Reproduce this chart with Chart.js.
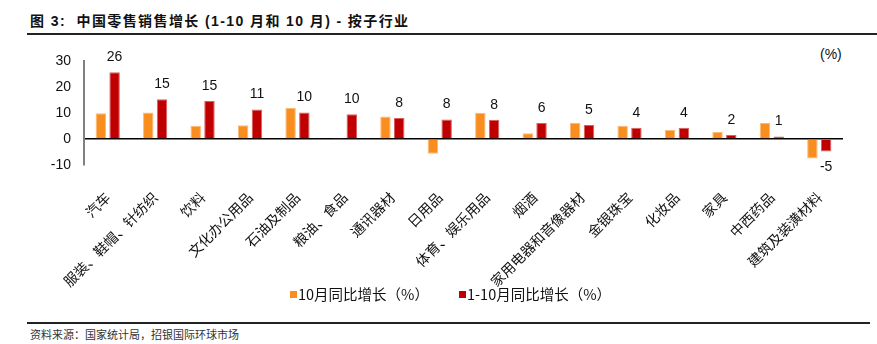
<!DOCTYPE html>
<html>
<head>
<meta charset="utf-8">
<script src="https://cdn.jsdelivr.net/npm/chart.js@4"></script>
<style>
  body { margin: 0; background: #fff; width: 877px; height: 344px; position: relative; overflow: hidden; font-family: "Liberation Sans", "Noto Sans CJK SC", sans-serif; }
  #title { position: absolute; left: 30px; top: 10px; font-size: 14px; font-weight: bold; color: #111; white-space: nowrap; letter-spacing: 1.4px; }
  #rule1 { position: absolute; left: 27px; top: 33px; width: 850px; height: 2px; background: #222; }
  #rule2 { position: absolute; left: 27px; top: 322px; width: 843px; height: 2px; background: #222; }
  #source { position: absolute; left: 30px; top: 326px; font-size: 11px; color: #333; font-family: "Noto Sans CJK SC", sans-serif; }
  #unit { position: absolute; left: 820px; top: 46px; font-size: 14px; color: #111; }
  #wrap { position: absolute; left: 0; top: 40px; width: 877px; height: 275px; }
  .lg { position: absolute; top: 285px; font-size: 14.5px; line-height: 18px; color: #111; font-family: "Noto Sans CJK SC", sans-serif; white-space: nowrap; }
  .box { position: absolute; top: 291px; width: 7px; height: 7px; }
</style>
</head>
<body>
<div id="title">图 3:&nbsp; 中国零售销售增长 (1-10 月和 10 月) - 按子行业</div>
<div id="rule1"></div>
<div id="unit">(%)</div>
<div id="wrap"><canvas id="bar-chart"></canvas></div>
<div id="legend"></div>
<div id="rule2"></div>
<div id="source">资料来源：国家统计局，招银国际环球市场</div>
<script>
const categories = [
  "汽车", "服装、鞋帽、针纺织", "饮料", "文化办公用品", "石油及制品", "粮油、食品",
  "通讯器材", "日用品", "体育、娱乐用品", "烟酒", "家用电器和音像器材", "金银珠宝",
  "化妆品", "家具", "中西药品", "建筑及装潢材料",
];

const oct_growth = [
  10.0, 10.3, 5.2, 5.3, 12.1, 0.4, 8.7, -5.7, 10.2, 2.3, 6.3, 5.2, 3.5, 2.8, 6.2, -7.5,
];

const ytd_growth = [
  25.8, 15.4, 14.7, 11.4, 10.3, 9.6, 8.1, 7.6, 7.5, 6.2, 5.4, 4.4, 4.4, 1.6, 1.0, -4.8,
];

const y_ticks = [-10, 0, 10, 20, 30];

const series_names = ["10月同比增长（%）", "1-10月同比增长（%）"];
const series_colors = ["#F98E1E", "#C00000"];

// value labels over the 1-10 month bars
const valueLabels = {
  id: "valueLabels",
  afterDatasetsDraw(chart) {
    const ctx = chart.ctx;
    const meta = chart.getDatasetMeta(1);
    ctx.save();
    ctx.font = "14px 'Liberation Sans', Arial, sans-serif";
    ctx.fillStyle = "#111";
    ctx.textAlign = "center";
    ctx.textBaseline = "middle";
    meta.data.forEach((bar, i) => {
      const v = ytd_growth[i];
      const y = v >= 0 ? bar.y - 15 : bar.y + 16;
      ctx.fillText(Math.round(v), bar.x, y);
    });
    ctx.restore();
  },
};

const myChart = new Chart("bar-chart", {
  type: "bar",
  data: {
    labels: categories,
    datasets: [
      {
        label: series_names[0],
        data: oct_growth,
        backgroundColor: series_colors[0],
        borderColor: "#FBB877",
        borderWidth: 1,
        barPercentage: 0.76,
        categoryPercentage: 0.58,
      },
      {
        label: series_names[1],
        data: ytd_growth,
        backgroundColor: series_colors[1],
        borderColor: "#D86060",
        borderWidth: 1,
        barPercentage: 0.76,
        categoryPercentage: 0.58,
      },
    ],
  },
  options: {
    responsive: true,
    maintainAspectRatio: false,
    animation: false,
    layout: {
      padding: { top: 15, right: 34, left: 0, bottom: 0 },
    },
    scales: {
      y: {
        min: -10,
        max: 30,
        afterBuildTicks: (axis) => {
          axis.ticks = y_ticks.map((v) => ({ value: v }));
        },
        afterFit: (axis) => {
          axis.width = 84;
        },
        border: { display: true, color: "#808080", width: 2 },
        grid: {
          drawTicks: false,
          color: (ctx) => (ctx.tick && ctx.tick.value === 0 ? "#000" : "transparent"),
          lineWidth: 1.5,
        },
        ticks: {
          padding: 13,
          color: "#111",
          font: { family: "'Liberation Sans', Arial, sans-serif", size: 14 },
        },
      },
      x: {
        border: { display: false },
        grid: { display: false },
        afterFit: (axis) => {
          axis.height = 150;
        },
        ticks: {
          minRotation: 45,
          maxRotation: 45,
          autoSkip: false,
          padding: 16,
          color: "#111",
          font: { family: "'Noto Sans CJK SC', sans-serif", size: 14 },
        },
      },
    },
    plugins: {
      legend: { display: false },
      tooltip: { enabled: false },
    },
  },
  plugins: [valueLabels],
});

// legend as plain text under the chart
const legend = document.getElementById("legend");
const legend_x = [290, 459];
series_names.forEach((name, i) => {
  const box = document.createElement("div");
  box.className = "box";
  box.style.left = legend_x[i] + "px";
  box.style.background = series_colors[i];
  legend.appendChild(box);
  const txt = document.createElement("div");
  txt.className = "lg";
  txt.style.left = legend_x[i] + 8 + "px";
  txt.textContent = name;
  legend.appendChild(txt);
});
</script>
</body>
</html>
